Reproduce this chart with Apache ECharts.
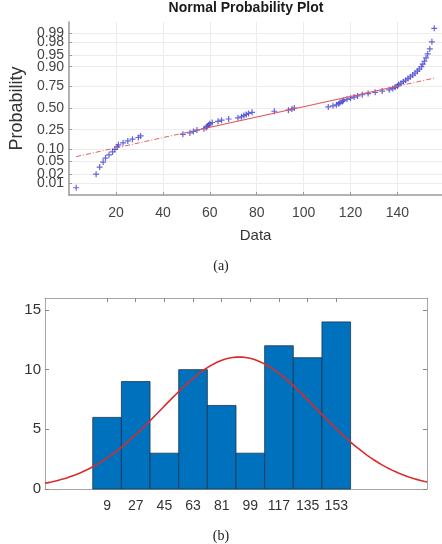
<!DOCTYPE html>
<html>
<head>
<meta charset="utf-8">
<script src="https://cdn.jsdelivr.net/npm/echarts@6/dist/echarts.min.js"></script>
<style>
  html, body { margin: 0; padding: 0; background: #fff; }
  #chart { width: 442px; height: 544px; }
</style>
</head>
<body>
<div id="chart"></div>
<script>
// sorted sample values (a)
var sampleData = [
  3, 11.5, 13, 14.5, 15.5, 17,
  18.5, 19.5, 20.5, 21, 23, 25, 27, 29.5, 30.5,
  48.5, 51.5, 53,
  54.5, 57.5, 58.5, 59, 59.5, 60, 61, 63.5, 65, 68,
  72, 73.5, 74.5, 75.5, 76.5, 78, 87.5,
  93.5, 95, 96,
  110.5, 112.5, 114, 115, 115.5, 116.5, 117, 118.5, 120, 121.5, 123, 125,
  127.5, 130.5, 133.5, 136.5, 138, 139, 140, 140.5, 141.5, 142.5, 143.5,
  144.5, 145.5, 146.5, 147.5, 148.5, 149.3, 150.2, 150.8, 151.5, 152.2, 152.9, 153.8, 154.7, 155.7
];
var probTicks = [0.01, 0.02, 0.05, 0.10, 0.25, 0.50, 0.75, 0.90, 0.95, 0.98, 0.99];
var probLabels = ["0.01", "0.02", "0.05", "0.10", "0.25", "0.50", "0.75", "0.90", "0.95", "0.98", "0.99"];
// the two labels that sit on top of their neighbours
var crowdedProbs = [0.02, 0.98];
var dataTicks = [20, 40, 60, 80, 100, 120, 140];

// histogram (b)
var binCenters = [9, 27, 45, 63, 81, 99, 117, 135, 153];
var binCounts = [6, 9, 3, 10, 7, 3, 12, 11, 14];
var binWidth = 18;
var countTicks = [0, 5, 10, 15];

var FONT = "'Liberation Sans', Arial, sans-serif";

// inverse normal cdf (Acklam)
function normInv(p) {
  var a = [-3.969683028665376e+01, 2.209460984245205e+02, -2.759285104469687e+02, 1.383577518672690e+02, -3.066479806614716e+01, 2.506628277459239e+00];
  var b = [-5.447609879822406e+01, 1.615858368580409e+02, -1.556989798598866e+02, 6.680131188771972e+01, -1.328068155288572e+01];
  var c = [-7.784894002430293e-03, -3.223964580411365e-01, -2.400758277161838e+00, -2.549732539343734e+00, 4.374664141464968e+00, 2.938163982698783e+00];
  var d = [7.784695709041462e-03, 3.224671290700398e-01, 2.445134137142996e+00, 3.754408661907416e+00];
  var q, r;
  if (p < 0.02425) {
    q = Math.sqrt(-2 * Math.log(p));
    return (((((c[0]*q+c[1])*q+c[2])*q+c[3])*q+c[4])*q+c[5]) / ((((d[0]*q+d[1])*q+d[2])*q+d[3])*q+1);
  }
  if (p > 1 - 0.02425) {
    q = Math.sqrt(-2 * Math.log(1 - p));
    return -(((((c[0]*q+c[1])*q+c[2])*q+c[3])*q+c[4])*q+c[5]) / ((((d[0]*q+d[1])*q+d[2])*q+d[3])*q+1);
  }
  q = p - 0.5; r = q * q;
  return (((((a[0]*r+a[1])*r+a[2])*r+a[3])*r+a[4])*r+a[5])*q / (((((b[0]*r+b[1])*r+b[2])*r+b[3])*r+b[4])*r+1);
}

// matlab style percentile
function prctile(sorted, pct) {
  var n = sorted.length;
  var pos = pct / 100 * n + 0.5;
  var i = Math.floor(pos);
  if (i < 1) return sorted[0];
  if (i >= n) return sorted[n - 1];
  return sorted[i - 1] + (pos - i) * (sorted[i] - sorted[i - 1]);
}

var n = sampleData.length;
var zTicks = probTicks.map(normInv);
var zMain = probTicks.filter(function (p) { return crowdedProbs.indexOf(p) < 0; }).map(normInv);
var zCrowded = crowdedProbs.map(normInv);

function probFormatter(v) {
  for (var i = 0; i < zTicks.length; i++) {
    if (Math.abs(zTicks[i] - v) < 1e-6) return probLabels[i];
  }
  return "";
}

// normal probability plot points
var probPoints = sampleData.map(function (v, i) {
  return [v, normInv((i + 0.5) / n)];
});

// reference line through quartiles
var q1 = prctile(sampleData, 25), q3 = prctile(sampleData, 75);
var zq1 = normInv(0.25), zq3 = normInv(0.75);
var slope = (zq3 - zq1) / (q3 - q1);
function refZ(x) { return zq1 + (x - q1) * slope; }
var xMin = sampleData[0], xMax = sampleData[n - 1];

// histfit normal curve
var mu = sampleData.reduce(function (s, v) { return s + v; }, 0) / n;
var sigma = Math.sqrt(sampleData.reduce(function (s, v) { return s + (v - mu) * (v - mu); }, 0) / (n - 1));
var fitCurve = [];
for (var x = -30; x <= 210; x += 2) {
  var z = (x - mu) / sigma;
  fitCurve.push([x, n * binWidth * Math.exp(-0.5 * z * z) / (sigma * Math.sqrt(2 * Math.PI))]);
}

var chart = echarts.init(document.getElementById("chart"));

var plusSymbol = "path://M5,0 L5,10 M0,5 L10,5";

chart.setOption({
  animation: false,
  title: [
    { text: "Normal Probability Plot", left: 246, top: 1, padding: 0, textAlign: "center",
      textStyle: { fontFamily: FONT, fontSize: 14, fontWeight: "bold", color: "#1a1a1a" } },
    { text: "(a)", left: 221, top: 259, padding: 0, textAlign: "center",
      textStyle: { fontFamily: "'Liberation Serif', serif", fontSize: 14, fontWeight: "normal", color: "#222" } },
    { text: "(b)", left: 221, top: 529, padding: 0, textAlign: "center",
      textStyle: { fontFamily: "'Liberation Serif', serif", fontSize: 14, fontWeight: "normal", color: "#222" } }
  ],
  grid: [
    { left: 50, right: 0, top: 22, height: 173 },
    { left: 45, width: 382, top: 298, height: 191 }
  ],
  xAxis: [
    {
      gridIndex: 0, type: "value", min: 0, max: 159,
      name: "Data", nameLocation: "middle", nameGap: 33,
      nameTextStyle: { fontFamily: FONT, fontSize: 15, color: "#333" },
      axisLine: { onZero: false, lineStyle: { color: "#999", width: 1.5 } },
      axisTick: { inside: true, length: 3, customValues: dataTicks, lineStyle: { color: "#999" } },
      axisLabel: { customValues: dataTicks, showMinLabel: true, showMaxLabel: true, hideOverlap: false,
        fontFamily: FONT, fontSize: 14, color: "#444", margin: 11 },
      splitLine: { show: true, lineStyle: { color: "#ececec" } }
    },
    {
      gridIndex: 1, type: "value", min: -30, max: 210,
      axisLine: { onZero: false, lineStyle: { color: "#a6a6a6" } },
      axisTick: { inside: true, length: 4, customValues: binCenters, lineStyle: { color: "#888" } },
      axisLabel: { customValues: binCenters, showMinLabel: true, showMaxLabel: true, hideOverlap: false,
        fontFamily: FONT, fontSize: 14, color: "#333", margin: 10 },
      splitLine: { show: false }
    },
    {
      gridIndex: 1, type: "value", min: -30, max: 210, position: "top",
      axisLine: { onZero: false, lineStyle: { color: "#a6a6a6" } },
      axisTick: { inside: true, length: 4, customValues: binCenters, lineStyle: { color: "#888" } },
      axisLabel: { show: false },
      splitLine: { show: false }
    }
  ],
  yAxis: [
    {
      gridIndex: 0, type: "value", min: -2.70, max: 2.67,
      name: "Probability", nameLocation: "middle", nameGap: 28,
      nameTextStyle: { fontFamily: FONT, fontSize: 18, color: "#333" },
      axisLine: { onZero: false, lineStyle: { color: "#999", width: 1.5 } },
      axisTick: { inside: true, length: 3, customValues: zTicks, lineStyle: { color: "#999" } },
      axisLabel: {
        customValues: zMain, showMinLabel: true, showMaxLabel: true, hideOverlap: false,
        fontFamily: FONT, fontSize: 14, color: "#444", margin: 5,
        formatter: probFormatter
      },
      splitLine: { show: true, lineStyle: { color: "#ececec" } }
    },
    {
      gridIndex: 1, type: "value", min: 0, max: 16,
      axisLine: { show: true, onZero: false, lineStyle: { color: "#a6a6a6" } },
      axisTick: { show: true, inside: true, length: 4, customValues: countTicks, lineStyle: { color: "#888" } },
      axisLabel: { customValues: countTicks, showMinLabel: true, showMaxLabel: true,
        fontFamily: FONT, fontSize: 15, color: "#333", margin: 4 },
      splitLine: { show: false }
    },
    {
      gridIndex: 1, type: "value", min: 0, max: 16, position: "right",
      axisLine: { show: true, onZero: false, lineStyle: { color: "#a6a6a6" } },
      axisTick: { show: true, inside: true, length: 4, customValues: countTicks, lineStyle: { color: "#888" } },
      axisLabel: { show: false },
      splitLine: { show: false }
    },
    {
      // overlay carrying only the crowded 0.02 / 0.98 labels
      gridIndex: 0, type: "value", min: -2.70, max: 2.67, position: "left",
      axisLine: { show: false }, axisTick: { show: false }, splitLine: { show: false },
      axisLabel: {
        customValues: zCrowded, showMinLabel: true, showMaxLabel: true, hideOverlap: false,
        fontFamily: FONT, fontSize: 14, color: "#444", margin: 5,
        formatter: probFormatter
      }
    }
  ],
  series: [
    {
      type: "line", xAxisIndex: 0, yAxisIndex: 0, showSymbol: false, silent: true,
      data: [[xMin, refZ(xMin)], [q1, zq1]],
      lineStyle: { color: "#e06060", width: 1, type: [5, 2, 1, 2] }
    },
    {
      type: "line", xAxisIndex: 0, yAxisIndex: 0, showSymbol: false, silent: true,
      data: [[q3, zq3], [xMax, refZ(xMax)]],
      lineStyle: { color: "#e06060", width: 1, type: [5, 2, 1, 2] }
    },
    {
      type: "line", xAxisIndex: 0, yAxisIndex: 0, showSymbol: false, silent: true,
      data: [[q1, zq1], [q3, zq3]],
      lineStyle: { color: "#e05555", width: 1.2 }
    },
    {
      type: "scatter", xAxisIndex: 0, yAxisIndex: 0,
      symbol: plusSymbol, symbolSize: 6,
      itemStyle: { color: "none", borderColor: "#4040d0", borderWidth: 1.2 },
      data: probPoints
    },
    {
      type: "custom", xAxisIndex: 1, yAxisIndex: 1,
      encode: { x: 0, y: 1 },
      data: binCenters.map(function (c, i) { return [c, binCounts[i]]; }),
      renderItem: function (params, api) {
        var c = api.value(0), h = api.value(1);
        var p0 = api.coord([c - binWidth / 2, h]);
        var p1 = api.coord([c + binWidth / 2, 0]);
        return {
          type: "rect",
          shape: { x: p0[0], y: p0[1], width: p1[0] - p0[0], height: p1[1] - p0[1] },
          style: { fill: "#0072bd", stroke: "#1b3552", lineWidth: 0.8 }
        };
      }
    },
    {
      type: "line", xAxisIndex: 1, yAxisIndex: 1, showSymbol: false, silent: true,
      data: fitCurve,
      lineStyle: { color: "#d92b2b", width: 1.6 }
    }
  ]
});
</script>
</body>
</html>
